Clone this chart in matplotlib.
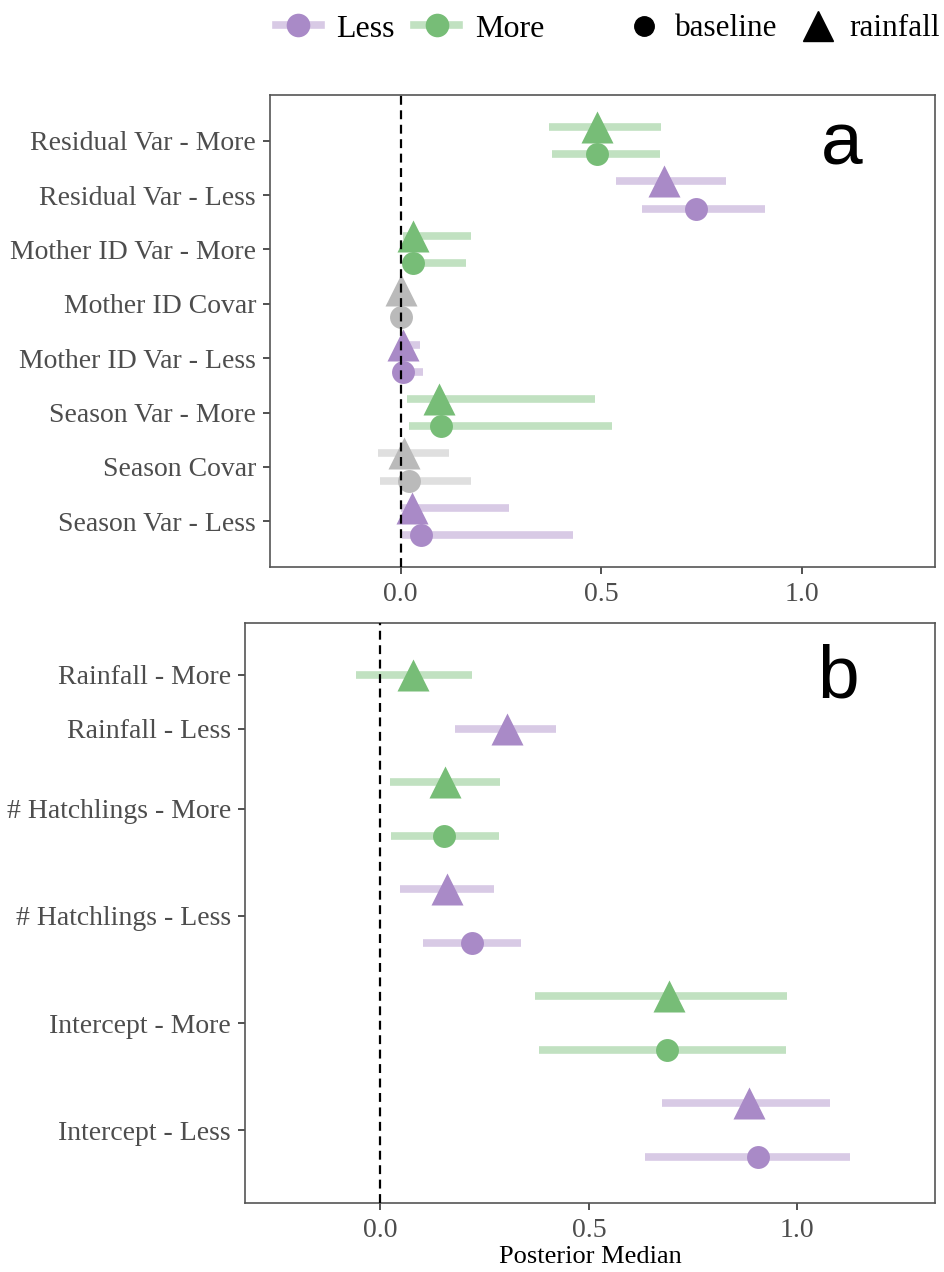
import numpy as np
import matplotlib.pyplot as plt
from matplotlib.lines import Line2D
from matplotlib.legend_handler import HandlerTuple

plt.rcParams['font.family'] = ['Liberation Serif', 'DejaVu Serif']

# panel a: variance components (top to bottom)
labels_a = ["Residual Var - More", "Residual Var - Less", "Mother ID Var - More",
            "Mother ID Covar", "Mother ID Var - Less", "Season Var - More",
            "Season Covar", "Season Var - Less"]
group_a = ["More", "Less", "More", "Covar", "Less", "More", "Covar", "Less"]
rain_med_a = [0.489, 0.656, 0.032, 0.002, 0.006, 0.096, 0.009, 0.028]
rain_lo_a = [0.370, 0.537, 0.005, -0.010, -0.005, 0.016, -0.056, 0.000]
rain_hi_a = [0.647, 0.809, 0.176, 0.012, 0.048, 0.484, 0.120, 0.269]
base_med_a = [0.489, 0.736, 0.030, 0.000, 0.005, 0.100, 0.021, 0.050]
base_lo_a = [0.376, 0.601, 0.005, -0.010, -0.005, 0.021, -0.052, 0.003]
base_hi_a = [0.646, 0.906, 0.163, 0.010, 0.055, 0.527, 0.176, 0.429]

# panel b: fixed effects (top to bottom)
labels_b = ["Rainfall - More", "Rainfall - Less", "# Hatchlings - More",
            "# Hatchlings - Less", "Intercept - More", "Intercept - Less"]
group_b = ["More", "Less", "More", "Less", "More", "Less"]
rain_med_b = [0.078, 0.303, 0.155, 0.159, 0.693, 0.884]
rain_lo_b = [-0.058, 0.179, 0.022, 0.046, 0.371, 0.676]
rain_hi_b = [0.219, 0.422, 0.287, 0.272, 0.975, 1.079]
base_med_b = [np.nan, np.nan, 0.153, 0.219, 0.686, 0.905]
base_lo_b = [np.nan, np.nan, 0.024, 0.101, 0.379, 0.634]
base_hi_b = [np.nan, np.nan, 0.284, 0.338, 0.972, 1.126]

dark = {"Less": "#A98AC7", "More": "#77BD77", "Covar": "#BABABA"}
BAR_ALPHA = 0.45
BAR_LW = 5.5
XLIM = (-0.325, 1.33)


def draw_panel(ax, labels, groups, rmed, rlo, rhi, bmed, blo, bhi, ms_c, ms_t):
    pos = 0
    ticks = []
    for i in range(len(labels)):
        c = dark[groups[i]]
        slots = []
        ax.hlines(pos, rlo[i], rhi[i], color=c, alpha=BAR_ALPHA, lw=BAR_LW, zorder=2)
        ax.plot(rmed[i], pos, marker='^', ms=ms_t, color=c, mec='none', zorder=3)
        slots.append(pos)
        pos += 1
        if not np.isnan(bmed[i]):
            ax.hlines(pos, blo[i], bhi[i], color=c, alpha=BAR_ALPHA, lw=BAR_LW, zorder=2)
            ax.plot(bmed[i], pos, marker='o', ms=ms_c, color=c, mec='none', zorder=3)
            slots.append(pos)
            pos += 1
        ticks.append(np.mean(slots))
    ax.axvline(0, color='black', ls=(0, (4, 2.5)), lw=1.6, zorder=4)
    ax.set_yticks(ticks)
    ax.set_yticklabels(labels)
    ax.set_xlim(*XLIM)
    ax.set_xticks([0.0, 0.5, 1.0])
    ax.set_xticklabels(["0.0", "0.5", "1.0"])
    ax.tick_params(axis='both', labelsize=20, labelcolor='#4D4D4D', color='#333333',
                   length=5, width=1.2)
    ax.tick_params(axis='y', pad=5)
    ax.tick_params(axis='x', pad=6)
    for s in ax.spines.values():
        s.set_color('#555555')
        s.set_linewidth(1.2)
    return pos


fig = plt.figure(figsize=(9.45, 12.72), dpi=100)
ax_a = fig.add_axes([270 / 945, 1 - 567 / 1272, 665 / 945, 472 / 1272])
ax_b = fig.add_axes([245 / 945, 1 - 1203 / 1272, 690 / 945, 580 / 1272])

n_a = draw_panel(ax_a, labels_a, group_a, rain_med_a, rain_lo_a, rain_hi_a,
                 base_med_a, base_lo_a, base_hi_a, ms_c=16.5, ms_t=23)
ax_a.set_ylim(n_a - 1 + 1.18, -1.18)

n_b = draw_panel(ax_b, labels_b, group_b, rain_med_b, rain_lo_b, rain_hi_b,
                 base_med_b, base_lo_b, base_hi_b, ms_c=16.5, ms_t=23)
ax_b.set_ylim(n_b - 1 + 0.86, -0.97)
ax_b.set_xlabel("Posterior Median", fontsize=19, color='black', labelpad=2)

ax_a.text(0.86, 0.895, "a", transform=ax_a.transAxes, fontsize=54,
          family='Liberation Sans', ha='center', va='center')
ax_b.text(0.86, 0.905, "b", transform=ax_b.transAxes, fontsize=54,
          family='Liberation Sans', ha='center', va='center')

# legends
h_dot = [Line2D([], [], color=dark[g], lw=0, marker='o', ms=17, mec='none')
         for g in ["Less", "More"]]
h_bar = [Line2D([], [], color=dark[g], alpha=BAR_ALPHA, lw=BAR_LW)
         for g in ["Less", "More"]]
leg1 = fig.legend([(h_bar[0], h_dot[0]), (h_bar[1], h_dot[1])], ["Less", "More"],
                  loc='center', bbox_to_anchor=(0.434, 1 - 29 / 1272), ncol=2,
                  frameon=False, fontsize=23, handlelength=1.4, handletextpad=0.5,
                  columnspacing=0.6,
                  handler_map={tuple: HandlerTuple(ndivide=1, pad=0)})
h_shape = [Line2D([], [], color='black', lw=0, marker='o', ms=14),
           Line2D([], [], color='black', lw=0, marker='^', ms=21)]
leg2 = fig.legend(h_shape, ["baseline", "rainfall"], loc='center right',
                  bbox_to_anchor=(0.998, 1 - 29 / 1272), ncol=2, frameon=False,
                  fontsize=22.5, handlelength=1.0, handletextpad=0.5,
                  columnspacing=0.8, borderaxespad=0, borderpad=0.1)

fig.savefig("out.png", dpi=100)
